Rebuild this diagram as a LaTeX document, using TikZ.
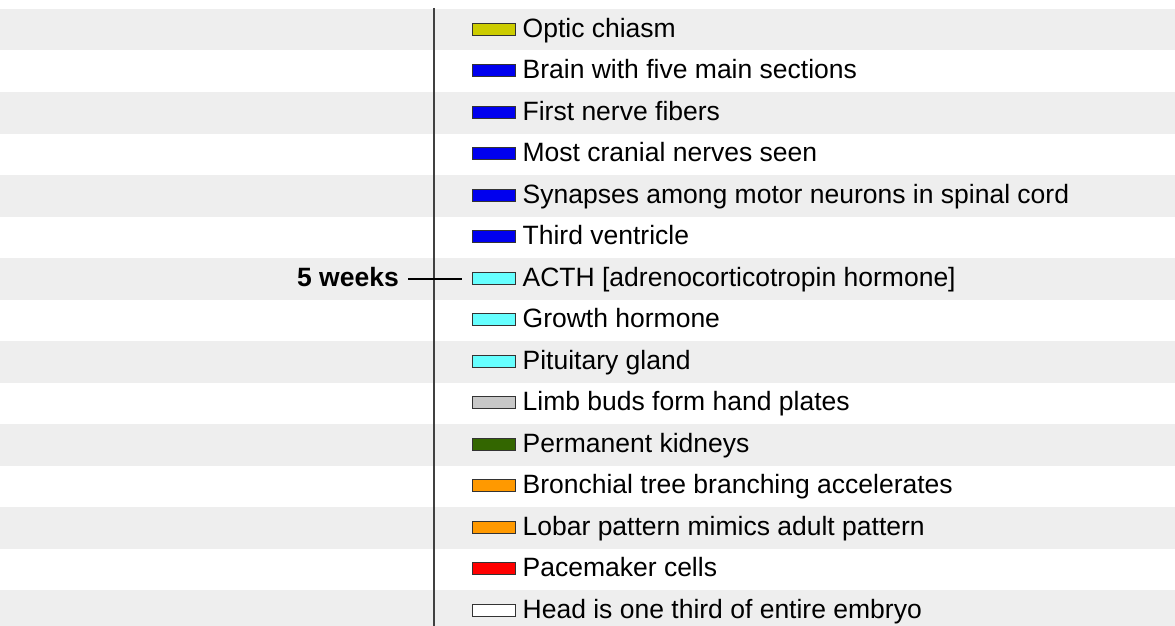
\documentclass[tikz,border=0pt]{standalone}
\usepackage{fontspec}
\setmainfont{Liberation Sans}
\usetikzlibrary{positioning}
\definecolor{bandgray}{RGB}{238,238,238}
\definecolor{olive}{RGB}{204,204,0}
\definecolor{brainblue}{RGB}{0,0,238}
\definecolor{hormcyan}{RGB}{102,255,255}
\definecolor{limbgray}{RGB}{200,200,200}
\definecolor{kidgreen}{RGB}{51,102,0}
\definecolor{lungorange}{RGB}{255,153,0}
\definecolor{heartred}{RGB}{255,0,0}
\begin{document}
\begin{tikzpicture}[
        x=1pt, y=-1pt,
        band/.style={fill=bandgray, draw=none},
        swatch/.style={rectangle, draw=black!80, line width=0.9pt, minimum width=43pt, minimum height=12pt, inner sep=0pt},
        item/.style={anchor=west, inner sep=0pt, text height=20.6pt, text depth=4pt, font=\fontsize{26.5}{30}\selectfont},
        week/.style={anchor=east, inner xsep=9pt, inner ysep=0pt, text height=20.6pt, text depth=4pt, font=\fontsize{26.5}{30}\selectfont\bfseries},
        axis/.style={line width=1.4pt, draw=black!75},
        tick/.style={line width=2pt}
        ]
      \useasboundingbox (0,0) rectangle (1175,626);
      % alternating bands
      \fill[band] (0,9) rectangle (1175,50.5);
      \fill[band] (0,92) rectangle (1175,133.5);
      \fill[band] (0,175) rectangle (1175,216.5);
      \fill[band] (0,258) rectangle (1175,299.5);
      \fill[band] (0,341) rectangle (1175,382.5);
      \fill[band] (0,424) rectangle (1175,465.5);
      \fill[band] (0,507) rectangle (1175,548.5);
      \fill[band] (0,590) rectangle (1175,626);
      % time axis
      \coordinate (top) at (434,8);
      \coordinate (bottom) at (434,626);
      \draw[axis] (top) -- (bottom);
      % swatches and labels
      \node[swatch, fill=olive] (s1) at (493.5,29) {};
      \node[item, right=7pt of s1] (t1) {Optic chiasm};
      \node[swatch, fill=brainblue] (s2) at (493.5,70.5) {};
      \node[item, right=7pt of s2] (t2) {Brain with five main sections};
      \node[swatch, fill=brainblue] (s3) at (493.5,112) {};
      \node[item, right=7pt of s3] (t3) {First nerve fibers};
      \node[swatch, fill=brainblue] (s4) at (493.5,153.5) {};
      \node[item, right=7pt of s4] (t4) {Most cranial nerves seen};
      \node[swatch, fill=brainblue] (s5) at (493.5,195) {};
      \node[item, right=7pt of s5] (t5) {Synapses among motor neurons in spinal cord};
      \node[swatch, fill=brainblue] (s6) at (493.5,236.5) {};
      \node[item, right=7pt of s6] (t6) {Third ventricle};
      \node[swatch, fill=hormcyan] (s7) at (493.5,278) {};
      \node[item, right=7pt of s7] (t7) {ACTH [adrenocorticotropin hormone]};
      \node[swatch, fill=hormcyan] (s8) at (493.5,319.5) {};
      \node[item, right=7pt of s8] (t8) {Growth hormone};
      \node[swatch, fill=hormcyan] (s9) at (493.5,361) {};
      \node[item, right=7pt of s9] (t9) {Pituitary gland};
      \node[swatch, fill=limbgray] (s10) at (493.5,402.5) {};
      \node[item, right=7pt of s10] (t10) {Limb buds form hand plates};
      \node[swatch, fill=kidgreen] (s11) at (493.5,444) {};
      \node[item, right=7pt of s11] (t11) {Permanent kidneys};
      \node[swatch, fill=lungorange] (s12) at (493.5,485.5) {};
      \node[item, right=7pt of s12] (t12) {Bronchial tree branching accelerates};
      \node[swatch, fill=lungorange] (s13) at (493.5,527) {};
      \node[item, right=7pt of s13] (t13) {Lobar pattern mimics adult pattern};
      \node[swatch, fill=heartred] (s14) at (493.5,568.5) {};
      \node[item, right=7pt of s14] (t14) {Pacemaker cells};
      \node[swatch, fill=white] (s15) at (493.5,610) {};
      \node[item, right=7pt of s15] (t15) {Head is one third of entire embryo};
      % week marker
      \node[week] (wk) at (408,278.5) {5 weeks};
      \coordinate (tickend) at (462,279);
      \draw[tick] (wk.east |- tickend) -- (tickend);
    \end{tikzpicture}
\end{document}
